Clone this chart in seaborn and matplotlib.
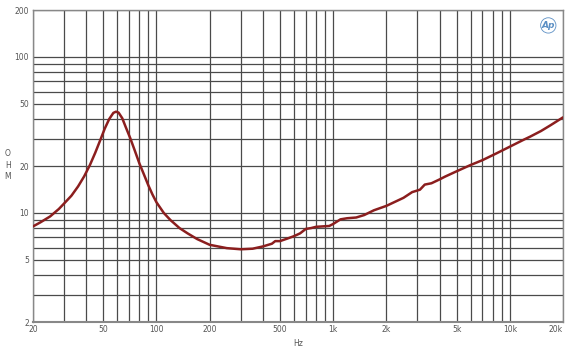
import matplotlib
matplotlib.use("Agg")
import matplotlib.pyplot as plt
import seaborn as sns
import numpy as np
import pandas as pd
from matplotlib.ticker import FixedLocator, NullFormatter, FixedFormatter

freq_hz = [20, 22, 25, 28, 30, 33, 36, 39, 42, 45, 48, 51, 54, 57, 59, 61, 64, 67,
           71, 75, 80, 85, 90, 95, 100, 110, 120, 135, 150, 170, 200, 250, 300, 350,
           400, 450, 470, 500, 550, 600, 650, 700, 750, 800, 870, 950, 1000, 1100,
           1200, 1350, 1500, 1700, 2000, 2500, 2800, 3100, 3300, 3600, 4000, 4300,
           5000, 6000, 7000, 8400, 10000, 12000, 13000, 15000, 17000, 20000]
impedance_ohm = [8.2, 8.7, 9.5, 10.6, 11.5, 12.9, 14.8, 17.2, 20.3, 24.3, 29.2, 34.8,
                 40.0, 43.8, 44.6, 44.0, 40.5, 35.5, 30.2, 25.5, 20.8, 17.6, 15.0, 13.1,
                 11.7, 10.0, 9.0, 8.0, 7.4, 6.8, 6.25, 5.95, 5.85, 5.9, 6.1, 6.35, 6.6,
                 6.6, 6.85, 7.1, 7.4, 7.9, 8.0, 8.15, 8.2, 8.25, 8.5, 9.1, 9.25, 9.35,
                 9.7, 10.4, 11.1, 12.5, 13.6, 14.1, 15.2, 15.5, 16.4, 17.1, 18.5, 20.3,
                 21.8, 24.1, 26.6, 29.5, 30.8, 33.5, 36.5, 41.0]

x_tick_values = [20, 50, 100, 200, 500, 1000, 2000, 5000, 10000, 20000]
x_tick_labels = ["20", "50", "100", "200", "500", "1k", "2k", "5k", "10k", "20k"]
y_tick_values = [2, 5, 10, 20, 50, 100, 200]
y_tick_labels = ["2", "5", "10", "20", "50", "100", "200"]

df = pd.DataFrame({"Hz": freq_hz, "Ohm": impedance_ohm})

sns.set_style("white")
plt.rcParams['font.family'] = ['DejaVu Sans']

fig = plt.figure(figsize=(5.65, 3.5), dpi=100)
ax = fig.add_axes([33/565, 28/350, 530/565, 312/350])

ax.set_xscale("log")
ax.set_yscale("log")
ax.set_xlim(20, 20000)
ax.set_ylim(2, 200)

# grid lines at 1..9 x decade
xgrid = [m * 10**e for e in range(1, 5) for m in range(1, 10)]
xgrid = [v for v in xgrid if 20 <= v <= 20000]
ygrid = [m * 10**e for e in range(0, 3) for m in range(1, 10)]
ygrid = [v for v in ygrid if 2 <= v <= 200]
for v in xgrid:
    ax.axvline(v, color="#4a4a4a", lw=0.9, zorder=1)
for v in ygrid:
    ax.axhline(v, color="#4a4a4a", lw=0.9, zorder=1)

sns.lineplot(data=df, x="Hz", y="Ohm", ax=ax, color="#8b1e1e", lw=1.8, zorder=3)

ax.xaxis.set_major_locator(FixedLocator(x_tick_values))
ax.xaxis.set_major_formatter(FixedFormatter(x_tick_labels))
ax.xaxis.set_minor_formatter(NullFormatter())
ax.yaxis.set_major_locator(FixedLocator(y_tick_values))
ax.yaxis.set_major_formatter(FixedFormatter(y_tick_labels))
ax.yaxis.set_minor_formatter(NullFormatter())
ax.tick_params(axis="both", which="both", length=0, labelsize=5.5, colors="#555555", pad=2)
ax.tick_params(axis="y", pad=3)
xl = ax.get_xticklabels()
xl[-1].set_horizontalalignment("right")

ax.set_xlabel("Hz", fontsize=5.5, color="#555555", labelpad=4)
ax.set_ylabel("")
fig.text(8/565, 1 - 165/350, "O\nH\nM", fontsize=5.5, color="#555555",
         ha="center", va="center", linespacing=1.3)

for s in ax.spines.values():
    s.set_color("#888888")
    s.set_linewidth(1.0)
ax.spines["bottom"].set_linewidth(1.5)

ax.text(0.985, 0.965, "Ap", transform=ax.transAxes, ha="right", va="top",
        fontsize=6.5, style="italic", fontweight="bold", color="#5b8fc4", zorder=5,
        bbox=dict(boxstyle="circle,pad=0.1", fc="white", ec="#5b8fc4", lw=0.6))

fig.savefig("out.png", dpi=100)
